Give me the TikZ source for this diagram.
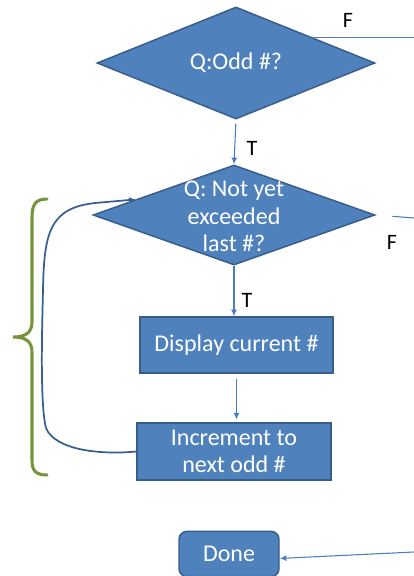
\documentclass[tikz,border=0pt]{standalone}
\usepackage{fontspec}
\setmainfont{Carlito}
\usepackage{tikz}
\usetikzlibrary{arrows.meta,shapes.geometric}

\definecolor{boxfill}{HTML}{4F81BD}
\definecolor{boxline}{HTML}{385D8A}
\definecolor{arrowblue}{HTML}{4A7EBB}
\definecolor{loopblue}{HTML}{365F91}
\definecolor{braceolive}{HTML}{77933C}

\begin{document}
\begin{tikzpicture}[
  x=0.75pt, y=-0.75pt,
  decision/.style={diamond, draw=boxline, fill=boxfill, line width=1.1pt, inner sep=0pt, text=white, font=\fontsize{18}{20.6}\selectfont},
  process/.style={rectangle, draw=boxline, fill=boxfill, line width=1.1pt, inner sep=0pt, text=white, align=center, font=\fontsize{18}{20.6}\selectfont},
  terminal/.style={process, rounded corners=6pt},
  branchlabel/.style={font=\fontsize{16.5}{19}\selectfont, text=black},
  flow/.style={-{Latex[length=5pt,width=4.5pt]}, draw=arrowblue, line width=0.8pt},
  exitline/.style={draw=arrowblue, line width=0.8pt},
  loopback/.style={-{Latex[length=5pt,width=4.5pt]}, draw=loopblue, line width=1.3pt},
  bracket/.style={draw=braceolive, line width=2.3pt, line cap=round}
]
  \useasboundingbox (0,0) rectangle (414,576);

  % decisions
  \node[decision, minimum width=208.5pt, minimum height=82.5pt] (odd) at (236,63) {Q:Odd \#?};
  \node[decision, minimum width=211.5pt, minimum height=72pt] (limit) at (234,215)
    {\smash{\raisebox{-7pt}{\begin{tabular}{@{}c@{}}Q: Not yet\\exceeded\\last \#?\end{tabular}}}};

  % steps
  \node[process, minimum width=144.75pt, minimum height=42pt] (show) at (236.5,345) {Display current \#};
  \node[process, minimum width=145.5pt, minimum height=42.75pt] (incr) at (234,451.5) {Increment to\\next odd \#};
  \node[terminal, minimum width=75pt, minimum height=34pt] (done) at (229,554) {Done};

  % free ends of the F branches
  \coordinate (oddF) at (414,38);
  \coordinate (limitF) at (414,218);
  \coordinate (doneF) at (414,552);

  \draw[exitline] (odd.18) -- (odd.18 -| oddF);
  \draw[exitline, shorten <=12.5pt] (limit.east) -- (limitF);
  \draw[flow] (doneF) -- (done.-5);

  \draw[flow, shorten <=3pt] (odd.south) -- (limit.north);
  \draw[flow] (limit.south) -- (limit.south |- show.north);
  \draw[flow, shorten <=4pt, shorten >=2pt] (show.south) -- (show.south |- incr.north);

  % loop back to the test
  \draw[loopback] (incr.west) .. controls (100,455) and (55,450) .. (46,428)
    .. controls (40,405) and (42,330) .. (43,290)
    .. controls (44,232) and (50,208) .. (95,203) -- (limit.171);

  \draw[bracket] (47,199) .. controls (35,199) and (32,205) .. (32,218) -- (32,322)
    .. controls (32,333) and (25,337) .. (13,337)
    .. controls (25,337) and (32,341) .. (32,352) -- (32,460)
    .. controls (32,470) and (35,475) .. (47,475);

  \node[branchlabel] (oddFlabel) at (348,20) {F};
  \node[branchlabel] (oddTlabel) at (252,148) {T};
  \node[branchlabel] (limitFlabel) at (392,242) {F};
  \node[branchlabel] (limitTlabel) at (247,300) {T};
\end{tikzpicture}
\end{document}
